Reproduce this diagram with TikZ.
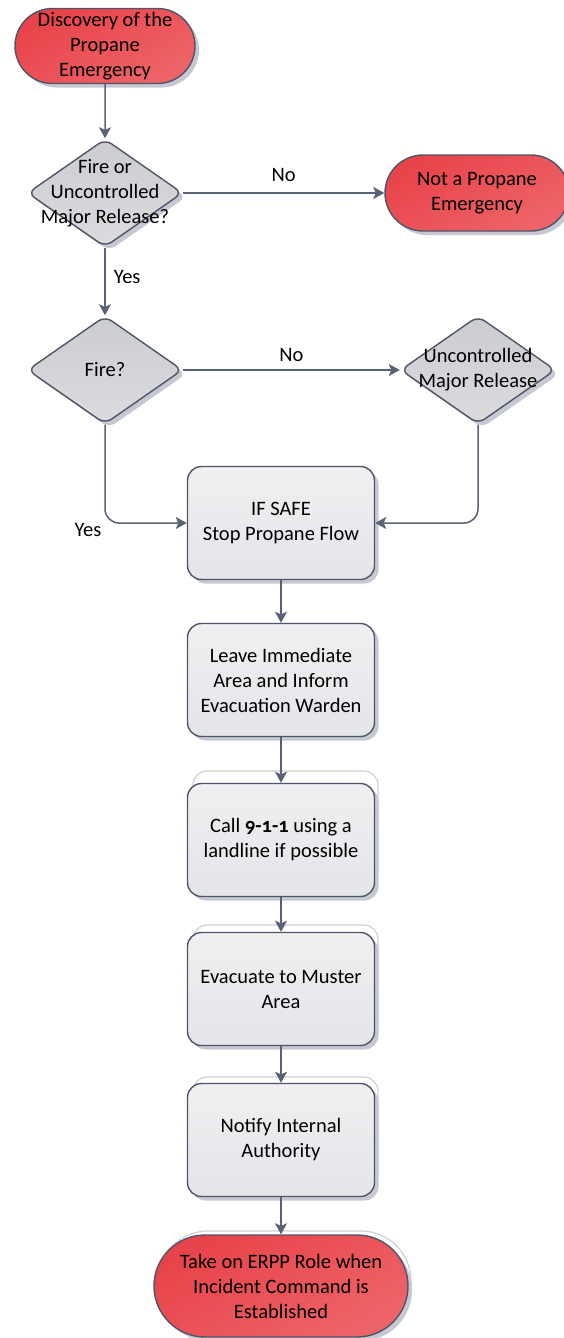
\documentclass[tikz,border=0pt]{standalone}
\usepackage{fontspec}
\setmainfont{Carlito}
\usetikzlibrary{arrows.meta,shapes.geometric,shapes.misc,shadows}
\definecolor{Edge}{HTML}{4E5568}
\definecolor{Wire}{HTML}{5A6276}
\definecolor{RedTop}{HTML}{E8434A}
\definecolor{RedLow}{HTML}{ED6468}
\definecolor{GreyTop}{HTML}{CBCCD1}
\definecolor{GreyLow}{HTML}{DCDCDF}
\definecolor{PaleTop}{HTML}{E4E5E9}
\definecolor{PaleLow}{HTML}{F0F0F2}
\definecolor{Shade}{HTML}{C6C9D2}
\definecolor{Ghost}{HTML}{CDD0D8}

\begin{document}
\begin{tikzpicture}[x=1pt,y=-1pt,font=\fontsize{20.5}{25}\selectfont,
  base/.style={draw=Edge,line width=1.4pt,inner sep=0pt,align=center,
    drop shadow={shadow xshift=4pt,shadow yshift=-4pt,fill=Shade,opacity=1}},
  terminal/.style={base,rounded rectangle,top color=RedTop,bottom color=RedLow,shading angle=30},
  decision/.style={base,diamond,rounded corners=8pt,minimum width=155pt,minimum height=108pt,
    top color=GreyTop,bottom color=GreyLow},
  process/.style={base,rectangle,rounded corners=14pt,minimum width=187pt,minimum height=113pt,
    top color=PaleLow,bottom color=PaleTop},
  ghost/.style={draw=Ghost,line width=1.2pt,fill=white,rounded corners=14pt},
  flow/.style={draw=Wire,line width=1.5pt,-{Stealth[length=11pt,width=12pt,inset=2.5pt]}},
  tag/.style={inner sep=0pt},
  every label/.style={align=center}]
\useasboundingbox (0,0) rectangle (564,1338);
\draw[ghost] (193,771) rectangle (378,886);
\draw[ghost] (193,925) rectangle (378,1040);
\draw[ghost] (193,1077) rectangle (378,1190);
\draw[ghost,rounded corners=50pt] (158,1231) rectangle (411,1333);
\node[terminal,minimum width=180pt,minimum height=75pt] (discover) at (105,46) {Discovery of the\\Propane\\Emergency};
\node[decision,label={center:Fire or\\Uncontrolled\\Major Release?}] (majorq) at (105,193) {};
\node[terminal,minimum width=184pt,minimum height=76pt] (notprop) at (477,193) {Not a Propane\\Emergency};
\node[decision,label={center:Fire?}] (fire) at (105,370) {};
\node[decision,label={center:Uncontrolled\\Major Release}] (release) at (478,370) {};
\node[process] (ifsafe) at (281,523) {IF SAFE\\Stop Propane Flow};
\node[process] (leave) at (281,680) {Leave Immediate\\Area and Inform\\Evacuation Warden};
\node[process] (call) at (281,840) {Call \textbf{\addfontfeatures{Numbers=OldStyle}9-1-1} using a\\landline if possible};
\node[process] (evac) at (281,989) {Evacuate to Muster\\Area};
\node[process] (notify) at (281,1140) {Notify Internal\\Authority};
\node[terminal,minimum width=254pt,minimum height=102pt] (erpp) at (281,1286) {Take on ERPP Role when\\Incident Command is\\Established};
\draw[flow] (discover) -- (majorq);
\draw[flow] (majorq) -- node[tag,above=11pt] {No} (notprop);
\draw[flow] (majorq) -- node[tag,right=8pt,pos=0.43] {Yes} (fire);
\draw[flow] (fire) -- node[tag,above=8pt] {No} (release);
\draw[flow,rounded corners=14pt] (fire) |- node[tag,pos=0.5,left=3pt,yshift=-7pt] {Yes} (ifsafe);
\draw[flow,rounded corners=14pt] (release) |- (ifsafe);
\draw[flow] (ifsafe) -- (leave);
\draw[flow] (leave) -- (call);
\draw[flow] (call) -- (evac);
\draw[flow] (evac) -- (notify);
\draw[flow] (notify) -- (erpp);
\end{tikzpicture}
\end{document}
